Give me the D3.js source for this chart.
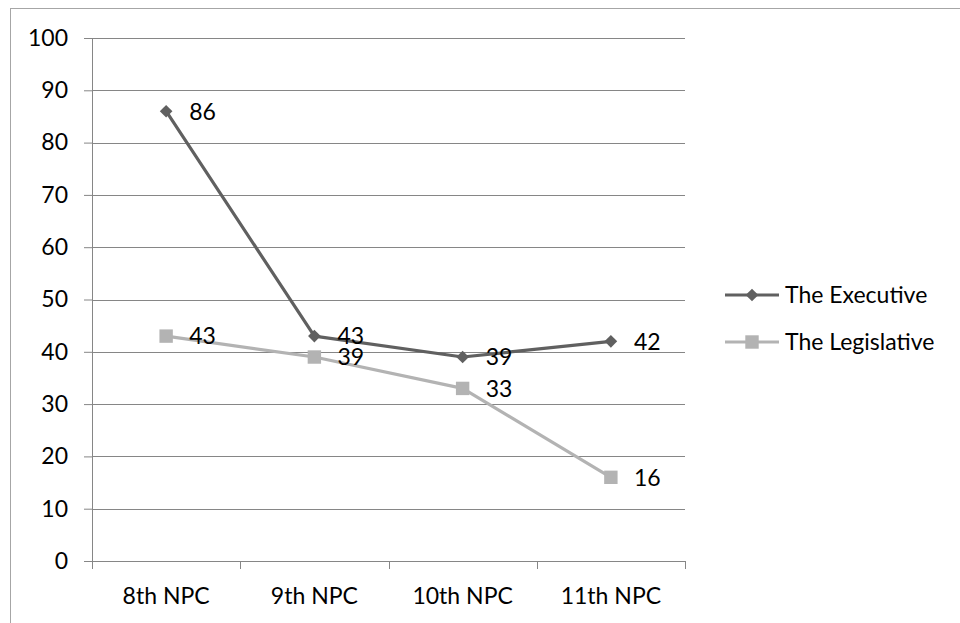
<!DOCTYPE html>
<html>
<head>
<meta charset="utf-8">
<script src="https://cdn.jsdelivr.net/npm/d3@7"></script>
<style>
  html, body { margin: 0; padding: 0; background: #fff; }
  svg { display: block; font-family: Lato, "Open Sans", sans-serif; }
</style>
</head>
<body>
<svg id="chart" width="960" height="623"></svg>
<script>
// Congress sessions and the two series (per cent)
const categories = ["8th NPC", "9th NPC", "10th NPC", "11th NPC"];
const executive = [86, 43, 39, 42];
const legislative = [43, 39, 33, 16];
const yTicks = [0, 10, 20, 30, 40, 50, 60, 70, 80, 90, 100];
const seriesNames = ["The Executive", "The Legislative"];

const svg = d3.select("#chart");
const plot = { left: 92, right: 685, top: 38, bottom: 561 };
const fontSize = 23;
const gridColor = "#868686";
const execColor = "#606060";
const legiColor = "#b3b3b3";

// Square diamond marker (a square turned by 45 degrees)
const squareDiamond = {
  draw(ctx, size) {
    const r = Math.sqrt(size / 2);
    ctx.moveTo(0, -r); ctx.lineTo(r, 0); ctx.lineTo(0, r); ctx.lineTo(-r, 0); ctx.closePath();
  }
};

// Outer chart frame
svg.append("rect")
  .attr("x", 10.5).attr("y", 8.5)
  .attr("width", 1000).attr("height", 800)
  .attr("fill", "none").attr("stroke", "#a6a6a6").attr("stroke-width", 1);

const x = d3.scaleBand().domain(categories).range([plot.left, plot.right]);
const y = d3.scaleLinear().domain([0, 100]).range([plot.bottom, plot.top]);
const cx = d => x(d) + x.bandwidth() / 2;

// Horizontal gridlines with left ticks
const yAxis = d3.axisLeft(y).tickValues(yTicks).tickSize(8).tickPadding(16).tickFormat(d3.format("d"));
const gy = svg.append("g").attr("transform", `translate(${plot.left},0)`).call(yAxis);
gy.select(".domain").attr("stroke", gridColor);
gy.selectAll(".tick line").attr("stroke", gridColor);
gy.selectAll(".tick text").attr("font-size", fontSize).attr("fill", "#000")
  .attr("font-family", "Lato, 'Open Sans', sans-serif");
svg.append("g").selectAll("line").data(yTicks).join("line")
  .attr("x1", plot.left).attr("x2", plot.right)
  .attr("y1", d => Math.round(y(d)) + 0.5).attr("y2", d => Math.round(y(d)) + 0.5)
  .attr("stroke", gridColor).attr("stroke-width", 1);

// Category axis with ticks between categories
const gx = svg.append("g").attr("transform", `translate(0,${plot.bottom})`);
gx.append("line").attr("x1", plot.left).attr("x2", plot.right)
  .attr("y1", 0.5).attr("y2", 0.5).attr("stroke", gridColor);
const bounds = categories.map(c => x(c)).concat([plot.right]);
gx.selectAll("line.tk").data(bounds).join("line").attr("class", "tk")
  .attr("x1", d => Math.round(d) + 0.5).attr("x2", d => Math.round(d) + 0.5)
  .attr("y1", 0).attr("y2", 8).attr("stroke", gridColor);
gx.selectAll("text").data(categories).join("text")
  .attr("x", d => cx(d)).attr("y", 43)
  .attr("text-anchor", "middle").attr("font-size", fontSize).attr("fill", "#000")
  .text(d => d);

// Lines, markers and value labels
const line = d3.line().x((d, i) => cx(categories[i])).y(d => y(d));
const series = [
  { name: seriesNames[0], values: executive, color: execColor, symbol: squareDiamond, size: 80 },
  { name: seriesNames[1], values: legislative, color: legiColor, symbol: d3.symbolSquare, size: 180 }
];

series.slice().reverse().forEach(s => {
  svg.append("path").datum(s.values)
    .attr("d", line).attr("fill", "none")
    .attr("stroke", s.color).attr("stroke-width", 3.2).attr("stroke-linejoin", "round");
  svg.append("g").selectAll("path").data(s.values).join("path")
    .attr("transform", (d, i) => `translate(${cx(categories[i])},${y(d)})`)
    .attr("d", d3.symbol().type(s.symbol).size(s.size)())
    .attr("fill", s.color);
});
series.forEach(s => {
  svg.append("g").selectAll("text").data(s.values).join("text")
    .attr("x", (d, i) => cx(categories[i]) + 23)
    .attr("y", d => y(d))
    .attr("dy", "0.36em")
    .attr("font-size", fontSize).attr("fill", "#000")
    .text(d => d);
});

// Legend
const legend = svg.append("g");
series.forEach((s, i) => {
  const ly = 295 + i * 47;
  legend.append("line").attr("x1", 725).attr("x2", 779).attr("y1", ly).attr("y2", ly)
    .attr("stroke", s.color).attr("stroke-width", 3.2);
  legend.append("path").attr("transform", `translate(752,${ly})`)
    .attr("d", d3.symbol().type(s.symbol).size(s.size)()).attr("fill", s.color);
  legend.append("text").attr("x", 785).attr("y", ly).attr("dy", "0.36em")
    .attr("font-size", fontSize).attr("fill", "#000").text(s.name);
});
</script>
</body>
</html>
